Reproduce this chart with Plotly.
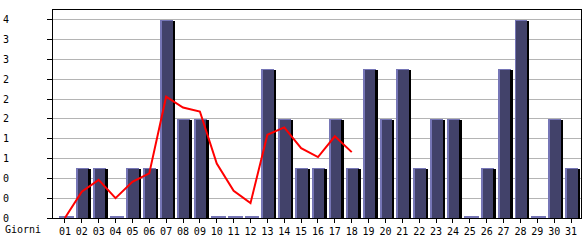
import math
import numpy as np
import plotly.graph_objects as go

# ---- data ----
days = [f"{d:02d}" for d in range(1, 32)]
visits = [0, 1, 1, 0, 1, 1, 4, 2, 2, 0, 0, 0, 3, 2, 1, 1, 2, 1, 3, 2, 3, 1, 2, 2, 0, 1, 3, 4, 0, 2, 1]
trend_days = days[:18]
trend = [0.0, 0.53, 0.77, 0.40, 0.73, 0.90, 2.45, 2.23, 2.15, 1.10, 0.55, 0.30, 1.68, 1.83, 1.41, 1.23, 1.65, 1.33]
y_ticks = [0.0, 0.4, 0.8, 1.2, 1.6, 2.0, 2.4, 2.8, 3.2, 3.6, 4.0]
y_tick_labels = [str(math.floor(v + 1e-9)) for v in y_ticks]
x_title = "Giorni"

# ---- styling / geometry ----
W, H = 585, 240
ML, MR, MT, MB = 50, 3, 10, 20
plot_w = W - ML - MR
plot_h = H - MT - MB
step_px = 17.0               # px per category
first_center_px = 12.0       # px from left axis to first category centre
x0 = -first_center_px / step_px
x1 = x0 + plot_w / step_px
y_max = 4.2
px_unit = plot_h / y_max    # px per value unit

FILL = "#42426a"
EDGE = "#7676b6"
SHADOW = "#000000"
GRID = "#b4b4b4"
FONT = dict(family="DejaVu Sans Mono", size=10, color="#000000")

xs = np.arange(len(days))
vals = np.array(visits, dtype=float)
nz = vals > 0

def px(n):
    return n / step_px

fig = go.Figure()

# light edge (full bar)
fig.add_trace(go.Bar(
    x=xs[nz], y=vals[nz], base=0, width=px(13), offset=px(-6),
    marker=dict(color=EDGE, line=dict(width=0)), showlegend=False, hoverinfo="skip"))
# dark body
fig.add_trace(go.Bar(
    x=xs[nz], y=vals[nz] - 1 / px_unit, base=0, width=px(11), offset=px(-4),
    marker=dict(color=FILL, line=dict(width=0)), showlegend=False, hoverinfo="skip"))
# black shadow on the right
fig.add_trace(go.Bar(
    x=xs[nz], y=vals[nz] - 1 / px_unit, base=0, width=px(2), offset=px(7),
    marker=dict(color=SHADOW, line=dict(width=0)), showlegend=False, hoverinfo="skip"))
# zero-value days drawn as thin strips
fig.add_trace(go.Bar(
    x=xs[~nz], y=np.full((~nz).sum(), 2 / px_unit), base=0, width=px(15), offset=px(-6),
    marker=dict(color=EDGE, line=dict(width=0)), showlegend=False, hoverinfo="skip"))

# red trend line
fig.add_trace(go.Scatter(
    x=[days.index(d) for d in trend_days], y=trend, mode="lines",
    line=dict(color="#ff0000", width=2), showlegend=False, hoverinfo="skip"))

fig.add_annotation(
    text=x_title, xref="paper", yref="paper",
    x=-ML / plot_w, y=-12 / plot_h, xanchor="left", yanchor="middle",
    showarrow=False, font=FONT)

fig.update_layout(
    width=W, height=H,
    margin=dict(l=ML, r=MR, t=MT, b=MB, pad=0),
    paper_bgcolor="white", plot_bgcolor="white",
    barmode="overlay", bargap=0,
    font=FONT,
    xaxis=dict(
        range=[x0, x1], tickmode="array", tickvals=list(xs), ticktext=days,
        ticks="outside", ticklen=4, tickcolor="black", tickwidth=1,
        showline=True, linecolor="black", linewidth=1, mirror=True,
        showgrid=False, zeroline=False, tickfont=FONT, tickangle=0,
        fixedrange=True),
    yaxis=dict(
        range=[0, y_max], tickmode="array", tickvals=y_ticks, ticktext=y_tick_labels,
        ticks="outside", ticklen=5, tickcolor="black", tickwidth=1,
        showline=True, linecolor="black", linewidth=1, mirror=True,
        showgrid=True, gridcolor=GRID, gridwidth=1, zeroline=False,
        tickfont=FONT, ticklabelstandoff=36, fixedrange=True),
)

fig.write_html("out.html")
